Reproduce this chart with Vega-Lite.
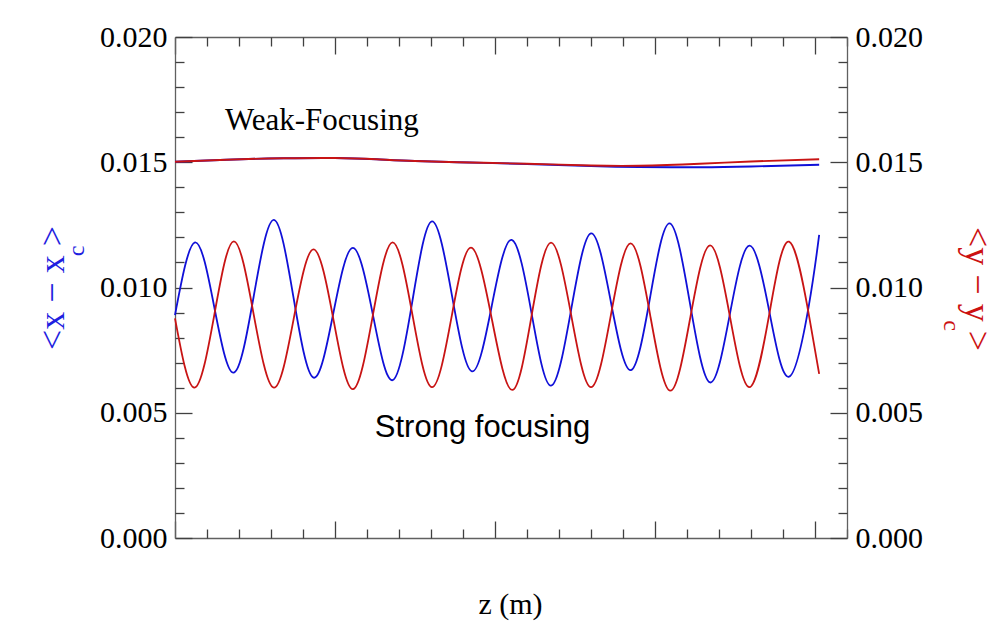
{
  "$schema": "https://vega.github.io/schema/vega-lite/v6.json",
  "width": 672,
  "height": 501,
  "autosize": {"type": "none"},
  "padding": {"left": 175, "top": 37, "right": 161, "bottom": 100},
  "background": "white",
  "config": {
    "view": {"stroke": null},
    "axis": {"labelFont": "Liberation Serif", "labelFontSize": 30, "titleFont": "Liberation Serif"}
  },
  "datasets": {
    "strong": [
      {"z": 0, "v": 0.0089, "coord": "x"},
      {"z": 0.625, "v": 0.0118, "coord": "x"},
      {"z": 1.23, "v": 0.0092, "coord": "x"},
      {"z": 1.84, "v": 0.0066, "coord": "x"},
      {"z": 2.46, "v": 0.00965, "coord": "x"},
      {"z": 3.09, "v": 0.0127, "coord": "x"},
      {"z": 3.71, "v": 0.00955, "coord": "x"},
      {"z": 4.33, "v": 0.0064, "coord": "x"},
      {"z": 4.95, "v": 0.00899, "coord": "x"},
      {"z": 5.56, "v": 0.01158, "coord": "x"},
      {"z": 6.18, "v": 0.00894, "coord": "x"},
      {"z": 6.8, "v": 0.0063, "coord": "x"},
      {"z": 7.42, "v": 0.00947, "coord": "x"},
      {"z": 8.03, "v": 0.01264, "coord": "x"},
      {"z": 8.66, "v": 0.009645, "coord": "x"},
      {"z": 9.28, "v": 0.00665, "coord": "x"},
      {"z": 9.9, "v": 0.009275, "coord": "x"},
      {"z": 10.52, "v": 0.0119, "coord": "x"},
      {"z": 11.14, "v": 0.00899, "coord": "x"},
      {"z": 11.75, "v": 0.00608, "coord": "x"},
      {"z": 12.38, "v": 0.00912, "coord": "x"},
      {"z": 13.0, "v": 0.01216, "coord": "x"},
      {"z": 13.62, "v": 0.00943, "coord": "x"},
      {"z": 14.24, "v": 0.0067, "coord": "x"},
      {"z": 14.85, "v": 0.00963, "coord": "x"},
      {"z": 15.46, "v": 0.01256, "coord": "x"},
      {"z": 16.09, "v": 0.009385, "coord": "x"},
      {"z": 16.72, "v": 0.00621, "coord": "x"},
      {"z": 17.34, "v": 0.00894, "coord": "x"},
      {"z": 17.95, "v": 0.01167, "coord": "x"},
      {"z": 18.57, "v": 0.009055, "coord": "x"},
      {"z": 19.19, "v": 0.00644, "coord": "x"},
      {"z": 19.81, "v": 0.0093, "coord": "x"},
      {"z": 20.13, "v": 0.0121, "coord": "x"},
      {"z": 0, "v": 0.00877, "coord": "y"},
      {"z": 0.61, "v": 0.006, "coord": "y"},
      {"z": 1.23, "v": 0.00892, "coord": "y"},
      {"z": 1.84, "v": 0.01184, "coord": "y"},
      {"z": 2.46, "v": 0.00892, "coord": "y"},
      {"z": 3.09, "v": 0.006, "coord": "y"},
      {"z": 3.71, "v": 0.00876, "coord": "y"},
      {"z": 4.33, "v": 0.01152, "coord": "y"},
      {"z": 4.95, "v": 0.00873, "coord": "y"},
      {"z": 5.56, "v": 0.00594, "coord": "y"},
      {"z": 6.18, "v": 0.00887, "coord": "y"},
      {"z": 6.8, "v": 0.0118, "coord": "y"},
      {"z": 7.42, "v": 0.00891, "coord": "y"},
      {"z": 8.03, "v": 0.00602, "coord": "y"},
      {"z": 8.64, "v": 0.008805, "coord": "y"},
      {"z": 9.25, "v": 0.01159, "coord": "y"},
      {"z": 9.9, "v": 0.00875, "coord": "y"},
      {"z": 10.54, "v": 0.00591, "coord": "y"},
      {"z": 11.14, "v": 0.00885, "coord": "y"},
      {"z": 11.75, "v": 0.01179, "coord": "y"},
      {"z": 12.38, "v": 0.008905, "coord": "y"},
      {"z": 13.0, "v": 0.00602, "coord": "y"},
      {"z": 13.62, "v": 0.00889, "coord": "y"},
      {"z": 14.24, "v": 0.01176, "coord": "y"},
      {"z": 14.86, "v": 0.00882, "coord": "y"},
      {"z": 15.48, "v": 0.00588, "coord": "y"},
      {"z": 16.1, "v": 0.00878, "coord": "y"},
      {"z": 16.72, "v": 0.01168, "coord": "y"},
      {"z": 17.34, "v": 0.00885, "coord": "y"},
      {"z": 17.95, "v": 0.00602, "coord": "y"},
      {"z": 18.57, "v": 0.008925, "coord": "y"},
      {"z": 19.19, "v": 0.01183, "coord": "y"},
      {"z": 19.81, "v": 0.0089, "coord": "y"},
      {"z": 20.13, "v": 0.00655, "coord": "y"}
    ],
    "weak": [
      {"z": 0, "v": 0.01502, "coord": "x"},
      {"z": 1, "v": 0.01507, "coord": "x"},
      {"z": 2.3, "v": 0.01513, "coord": "x"},
      {"z": 3.4, "v": 0.01516, "coord": "x"},
      {"z": 5, "v": 0.01517, "coord": "x"},
      {"z": 6.3, "v": 0.01512, "coord": "x"},
      {"z": 7.5, "v": 0.01505, "coord": "x"},
      {"z": 9.2, "v": 0.01499, "coord": "x"},
      {"z": 11, "v": 0.01493, "coord": "x"},
      {"z": 13, "v": 0.01485, "coord": "x"},
      {"z": 14.5, "v": 0.01481, "coord": "x"},
      {"z": 16.4, "v": 0.0148, "coord": "x"},
      {"z": 18, "v": 0.01483, "coord": "x"},
      {"z": 20.13, "v": 0.0149, "coord": "x"},
      {"z": 0, "v": 0.01502, "coord": "y"},
      {"z": 1, "v": 0.01507, "coord": "y"},
      {"z": 2.3, "v": 0.01513, "coord": "y"},
      {"z": 3.4, "v": 0.01516, "coord": "y"},
      {"z": 5, "v": 0.01517, "coord": "y"},
      {"z": 6.3, "v": 0.01512, "coord": "y"},
      {"z": 7.5, "v": 0.01505, "coord": "y"},
      {"z": 9.2, "v": 0.01499, "coord": "y"},
      {"z": 11, "v": 0.01494, "coord": "y"},
      {"z": 13, "v": 0.01487, "coord": "y"},
      {"z": 14.5, "v": 0.01486, "coord": "y"},
      {"z": 16.4, "v": 0.01494, "coord": "y"},
      {"z": 18, "v": 0.01503, "coord": "y"},
      {"z": 20.13, "v": 0.01512, "coord": "y"}
    ]
  },
  "resolve": {"axis": {"x": "independent", "y": "independent"}},
  "layer": [
    {
      "data": {"name": "strong"},
      "mark": {"type": "line", "interpolate": "natural", "strokeWidth": 1.8},
      "encoding": {
        "x": {
          "field": "z", "type": "quantitative",
          "scale": {"domain": [0, 21], "nice": false, "zero": false},
          "axis": {
            "orient": "bottom", "values": [0, 5, 10, 15, 20], "labels": false,
            "tickSize": -17, "tickColor": "#404040", "tickWidth": 1.3,
            "domain": true, "domainColor": "#606060", "domainWidth": 1.3, "grid": false,
            "title": "z (m)", "titleFont": "Liberation Serif", "titleFontSize": 30,
            "titleFontWeight": "normal", "titleColor": "black",
            "titleX": 335, "titleY": 75, "titleBaseline": "alphabetic", "titleAlign": "center"
          }
        },
        "y": {
          "field": "v", "type": "quantitative",
          "scale": {"domain": [0, 0.02], "nice": false, "zero": false},
          "axis": {
            "orient": "left", "values": [0, 0.005, 0.01, 0.015, 0.02], "format": ".3f",
            "labelFont": "Liberation Serif", "labelFontSize": 30, "labelColor": "black",
            "labelPadding": 25, "labelFlush": false, "labelOverlap": false, "labelBound": false,
            "tickSize": -17, "tickColor": "#404040", "tickWidth": 1.3,
            "domain": true, "domainColor": "#606060", "domainWidth": 1.3, "grid": false,
            "title": "<x − x >", "titleFont": "Liberation Serif", "titleFontSize": 36,
            "titleFontWeight": "normal", "titleColor": "#1f1fe0", "titleAngle": -90,
            "titleX": -112, "titleY": 250.5, "titleBaseline": "alphabetic", "titleAlign": "center"
          }
        },
        "color": {
          "field": "coord", "type": "nominal",
          "scale": {"domain": ["x", "y"], "range": ["#1010d8", "#c81414"]},
          "legend": null
        }
      }
    },
    {
      "data": {"name": "weak"},
      "mark": {"type": "line", "interpolate": "natural", "strokeWidth": 1.9},
      "encoding": {
        "x": {
          "field": "z", "type": "quantitative",
          "axis": {
            "orient": "top", "values": [0, 5, 10, 15, 20], "labels": false,
            "tickSize": -17, "tickColor": "#404040", "tickWidth": 1.3,
            "domain": true, "domainColor": "#606060", "domainWidth": 1.3, "grid": false,
            "title": null
          }
        },
        "y": {
          "field": "v", "type": "quantitative",
          "axis": {
            "orient": "right", "values": [0, 0.005, 0.01, 0.015, 0.02], "format": ".3f",
            "labelFont": "Liberation Serif", "labelFontSize": 30, "labelColor": "black",
            "labelPadding": 25, "labelFlush": false, "labelOverlap": false, "labelBound": false,
            "tickSize": -17, "tickColor": "#404040", "tickWidth": 1.3,
            "domain": true, "domainColor": "#606060", "domainWidth": 1.3, "grid": false,
            "title": "<y − y >", "titleFont": "Liberation Serif", "titleFontSize": 36,
            "titleFontWeight": "normal", "titleColor": "#cc1111", "titleAngle": 90,
            "titleX": 118, "titleY": 251.5, "titleBaseline": "alphabetic", "titleAlign": "center"
          }
        },
        "color": {"field": "coord", "type": "nominal", "legend": null}
      }
    },
    {
      "data": {"values": [{"label": "Weak-Focusing"}]},
      "mark": {"type": "text", "font": "Liberation Serif", "fontSize": 31, "align": "center", "baseline": "alphabetic", "color": "black"},
      "encoding": {
        "text": {"field": "label"},
        "x": {
          "datum": 4.59, "type": "quantitative",
          "axis": {
            "orient": "bottom", "values": [1, 2, 3, 4, 6, 7, 8, 9, 11, 12, 13, 14, 16, 17, 18, 19, 21],
            "labels": false, "tickSize": -9, "tickColor": "#404040", "tickWidth": 1.3,
            "domain": false, "grid": false, "title": null
          }
        },
        "y": {
          "datum": 0.01629, "type": "quantitative",
          "axis": {
            "orient": "left",
            "values": [0.001, 0.002, 0.003, 0.004, 0.006, 0.007, 0.008, 0.009, 0.011, 0.012, 0.013, 0.014, 0.016, 0.017, 0.018, 0.019],
            "labels": false, "tickSize": -9, "tickColor": "#404040", "tickWidth": 1.3,
            "domain": false, "grid": false,
            "title": "c", "titleFont": "Liberation Serif", "titleFontSize": 24,
            "titleFontWeight": "normal", "titleColor": "#1f1fe0", "titleAngle": -90,
            "titleX": -92, "titleY": 213.5, "titleBaseline": "alphabetic", "titleAlign": "center"
          }
        }
      }
    },
    {
      "data": {"values": [{"label": "Strong focusing"}]},
      "mark": {"type": "text", "font": "Liberation Sans", "fontSize": 31, "align": "center", "baseline": "alphabetic", "color": "black"},
      "encoding": {
        "text": {"field": "label"},
        "x": {
          "datum": 9.61, "type": "quantitative",
          "axis": {
            "orient": "top", "values": [1, 2, 3, 4, 6, 7, 8, 9, 11, 12, 13, 14, 16, 17, 18, 19, 21],
            "labels": false, "tickSize": -9, "tickColor": "#404040", "tickWidth": 1.3,
            "domain": false, "grid": false, "title": null
          }
        },
        "y": {
          "datum": 0.00403, "type": "quantitative",
          "axis": {
            "orient": "right",
            "values": [0.001, 0.002, 0.003, 0.004, 0.006, 0.007, 0.008, 0.009, 0.011, 0.012, 0.013, 0.014, 0.016, 0.017, 0.018, 0.019],
            "labels": false, "tickSize": -9, "tickColor": "#404040", "tickWidth": 1.3,
            "domain": false, "grid": false,
            "title": "c", "titleFont": "Liberation Serif", "titleFontSize": 24,
            "titleFontWeight": "normal", "titleColor": "#cc1111", "titleAngle": 90,
            "titleX": 96, "titleY": 288, "titleBaseline": "alphabetic", "titleAlign": "center"
          }
        }
      }
    }
  ]
}
